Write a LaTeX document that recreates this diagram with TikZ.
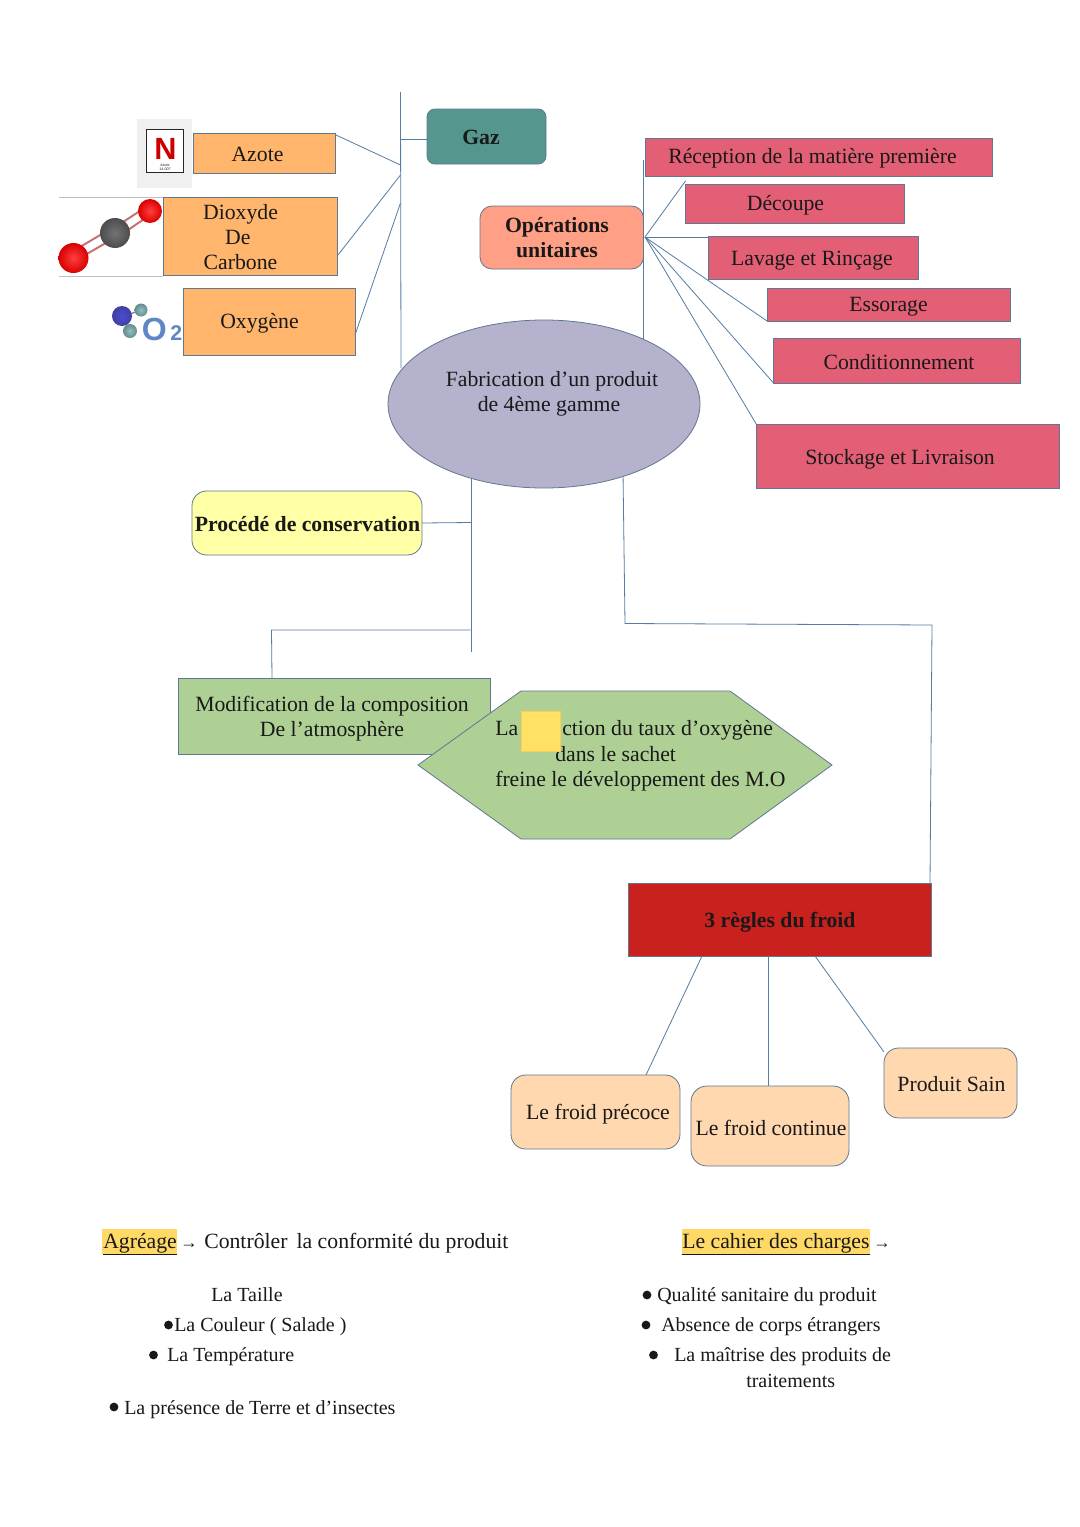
\documentclass[tikz,border=0pt]{standalone}
\usepackage{fontspec}
\setmainfont{Liberation Serif}
\newfontfamily\sansf{Liberation Sans}
\definecolor{linec}{HTML}{557CA3}
\definecolor{bordc}{HTML}{5F7890}
\definecolor{boxorange}{HTML}{FFB66C}
\definecolor{boxred}{HTML}{E35F75}
\definecolor{boxgreen}{HTML}{AFD095}
\definecolor{boxpeach}{HTML}{FFD8B0}
\definecolor{boxsalmon}{HTML}{FF9F85}
\definecolor{boxteal}{HTML}{55968F}
\definecolor{boxyellow}{HTML}{FFFFA6}
\definecolor{boxlav}{HTML}{B4B2CD}
\definecolor{boxdark}{HTML}{C9211E}
\definecolor{hl}{HTML}{FFD966}
\definecolor{patch}{HTML}{FFE264}
\definecolor{otwoc}{HTML}{5F86C6}
\tikzset{
 x=0.75pt,y=-0.75pt,
 every node/.style={font=\fontsize{16.3}{18.75}\selectfont,text=black!90,align=center,inner sep=0pt},
 conn/.style={draw=linec,line width=0.6pt},
 bord/.style={draw=bordc,line width=0.6pt},
 txt/.style={anchor=base west},
 sm/.style={anchor=base west,font=\fontsize{15}{18}\selectfont},
 bul/.style={circle,fill=black!90,minimum size=6.6pt},
 redball/.style={shading=radial,inner color=red!75!white,outer color=red!85!black},
}
\newcommand{\bx}[6]{% name, x1,y1,x2,y2, color
 \path[bord,fill=#6] (#2,#3) rectangle (#4,#5) coordinate[pos=0.5] (#1);}
\newcommand{\rbx}[7]{% name,x1,y1,x2,y2,color,radius
 \path[bord,fill=#6,rounded corners=#7] (#2,#3) rectangle (#4,#5) coordinate[pos=0.5] (#1);}
\begin{document}
\begin{tikzpicture}
\useasboundingbox[fill=white] (0,0) rectangle (1080,1527);
% free connector ends
\coordinate (t0) at (400.5,92);
\coordinate (t1) at (400.5,139);
\coordinate (t2) at (400.5,165);
\coordinate (t3) at (400.5,175);
\coordinate (t4) at (400.5,203);
\coordinate (t5) at (401,368);
\coordinate (o0) at (643.5,160);
\coordinate (o1) at (645,237);
\coordinate (o2) at (643.5,340);
\coordinate (c0) at (471,472);
\coordinate (c1) at (471,522.5);
\coordinate (c2) at (470.5,630);
\coordinate (c3) at (471,652);
\coordinate (c4) at (271.5,630);
\coordinate (f0) at (623,472);
\coordinate (f1) at (625,623.5);
\coordinate (f2) at (932,625);
% connectors below the shapes
\draw[conn] (t0)--(t5);
\draw[conn] (o0)--(o2);
\draw[conn] (c0)--(c3);
\draw[conn] (f0)--(f1)--(f2)--(930,883);

% icons
\path[fill=black!6] (137,119) rectangle (192,188);
\path[draw=black!85,line width=1.1pt,fill=white] (146.5,129.5) rectangle (183.5,172.5);
\node[text=red!80!black,font=\sansf\bfseries\fontsize{23}{23}\selectfont] (nsym) at (165.5,149) {N};
\node[font=\sansf\fontsize{2.7}{3}\selectfont] (nname) at (165,167) {Azote\\[-0.3pt]14.007};
\draw[black!25,line width=0.6pt] (59,197)--(163,197) (59,276)--(163,276);
\draw[red!60!black!55,line width=1.5pt] (80,247)--(112,228) (85,255)--(118,236);
\draw[red!60!black!55,line width=1.5pt] (120,224)--(146,207) (125,232)--(150,215);
\shade[redball] (73.5,258) circle[radius=15];
\shade[shading=radial,inner color=black!55,outer color=black!70] (115,233) circle[radius=15];
\shade[redball] (150,211) circle[radius=12];
\draw[blue!30!black!50,line width=1pt] (122,317)--(141,310) (122,317)--(130,331);
\shade[shading=radial,inner color=blue!65!white!85!black,outer color=blue!50!black!75] (122,316) circle[radius=10];
\shade[shading=radial,inner color=cyan!25!white!75!black,outer color=cyan!25!black!60] (141,310) circle[radius=6.5];
\shade[shading=radial,inner color=cyan!25!white!75!black,outer color=cyan!25!black!60] (130,331) circle[radius=7];
\node[text=otwoc,font=\sansf\bfseries\fontsize{24}{24}\selectfont,anchor=base west] (otwo) at (141.5,340) {O};
\node[text=otwoc,font=\sansf\bfseries\fontsize{16}{16}\selectfont,anchor=base west] (otwob) at (170,340) {2};

% gas
\rbx{gaz}{427}{109}{546}{164}{boxteal}{6}
\bx{azote}{193}{133.5}{335.5}{173}{boxorange}
\bx{dioxyde}{163}{197}{337.5}{275}{boxorange}
\bx{oxy}{183}{288}{355}{355}{boxorange}
\node at (481,137.5) {\bfseries Gaz};
\node at (257.5,154.5) {Azote};
\node at (240.5,237.5) {Dioxyde\\[0pt]De\hspace{4pt}\null\\[0pt]Carbone};
\node at (259.5,323.5) {Oxygène};
\coordinate (azr) at (336,135);
\coordinate (dir) at (338,255);
\coordinate (oxr) at (355,335);
\draw[conn] (azr)--(t2);
\draw[conn] (dir)--(t3);
\draw[conn] (oxr)--(t4);
\draw[conn] (t1)--(427,139);

% operations
\rbx{ops}{480}{206}{643.5}{269}{boxsalmon}{9}
\node at (557,238) {\bfseries Opérations\\\bfseries unitaires};
\bx{rec}{645.5}{138}{992}{176}{boxred}
\bx{dec}{685.5}{184}{904}{223}{boxred}
\bx{lav}{708.5}{236.5}{918}{279}{boxred}
\bx{ess}{767}{288}{1010}{321}{boxred}
\bx{con}{773.5}{338.5}{1020}{383}{boxred}
\bx{sto}{756.5}{424.5}{1059}{488}{boxred}
\node at (812.5,158) {Réception de la matière première};
\node at (785.5,205.5) {Découpe};
\node at (812,260.5) {Lavage et Rinçage};
\node at (888.5,306.5) {Essorage};
\node at (899,362) {Conditionnement};
\node at (900,459.5) {Stockage et Livraison};
\draw[conn] (o1)--(685.5,181);
\draw[conn] (o1)--(708.5,237);
\draw[conn] (o1)--(767,321);
\draw[conn] (o1)--(773.5,383);
\draw[conn] (o1)--(756.5,424.5);

% centre
\path[bord,fill=boxlav] (544,404) ellipse[x radius=156,y radius=84];
\node (fab) at (552,393.5) {Fabrication d’un produit\\de 4ème gamme\hspace{4.5pt}\null};
\coordinate (centre) at (544,404);

% conservation
\rbx{proc}{192}{491}{422}{555}{boxyellow}{11}
\node at (307.5,524) {\bfseries Procédé de conservation};
\draw[conn] (c1)--(422,523);
\draw[conn] (c2)--(c4)--(272,678);

% modification + hexagon
\bx{modif}{178}{678.5}{490}{754}{boxgreen}
\node at (332,719) {Modification de la composition\\De l’atmosphère};
\path[bord,fill=boxgreen] (418,765)--(521,691)--(730,691)--(832,765)--(730,839)--(521,839)--cycle;
\coordinate (hexa) at (625,765);
\node[txt] at (495,735) {La};
\node[txt] at (562,735) {ction du taux d’oxygène};
\node[txt] at (555,761) {dans le sachet};
\node[txt] at (495,786) {freine le développement des M.O};
\path[fill=patch,draw=hl!85!orange,line width=0.5pt] (521,711) rectangle (560,751);

% froid
\bx{regles}{628}{883.5}{931.5}{956}{boxdark}
\node at (780,922) {\bfseries 3 règles du froid};
\rbx{precoce}{511}{1075}{680}{1149}{boxpeach}{11}
\rbx{continue}{691}{1086}{849}{1166}{boxpeach}{12}
\rbx{sain}{884}{1048}{1017}{1118}{boxpeach}{11}
\node at (598,1114) {Le froid précoce};
\node at (771,1128) {Le froid continue};
\node at (951.5,1084.5) {Produit Sain};
\draw[conn] (702,956)--(646,1075);
\draw[conn] (768,956)--(768,1086);
\draw[conn] (815,956)--(884,1052);

% left text
\path[fill=hl] (102,1229) rectangle (177,1254);
\node[txt] (agr) at (103,1248) {\underline{Agréage}};
\node[txt,font=\sansf\fontsize{13}{14}\selectfont] (arr1) at (180,1248.5) {→};
\node[txt] (ctrl) at (204,1248) {Contrôler\ \,la conformité du produit};
\node[sm] (l1) at (211,1301) {La Taille};
\node[bul] (b2) at (168.5,1325) {};
\node[sm] (l2) at (174,1331) {La Couleur ( Salade )};
\node[bul] (b3) at (153.5,1355) {};
\node[sm] (l3) at (167,1361) {La Température};
\node[bul] (b4) at (114,1407) {};
\node[sm] (l4) at (124,1414) {La présence de Terre et d’insectes};

% right text
\path[fill=hl] (682,1229) rectangle (870,1254);
\node[txt] (cdc) at (682,1248) {\underline{Le cahier des charges}};
\node[txt,font=\sansf\fontsize{13}{14}\selectfont] (arr2) at (873,1248.5) {→};
\node[bul] (b5) at (647,1295) {};
\node[sm] (r1) at (657,1301) {Qualité sanitaire du produit};
\node[bul] (b6) at (646,1325) {};
\node[sm] (r2) at (661,1331) {Absence de corps étrangers};
\node[bul] (b7) at (653.5,1355) {};
\node[sm] (r3) at (674,1361) {La maîtrise des produits de};
\node[sm] (r4) at (746,1387) {traitements};
\end{tikzpicture}
\end{document}
